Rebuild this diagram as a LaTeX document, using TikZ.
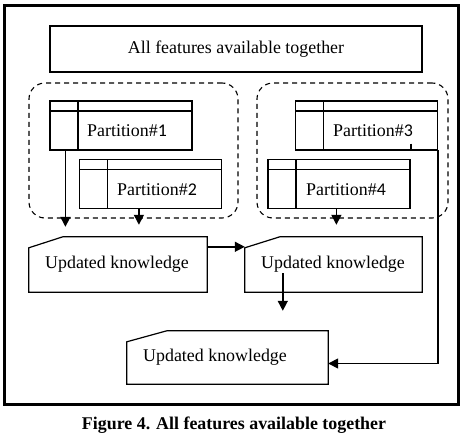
\documentclass[tikz,border=0pt]{standalone}
\usepackage{fontspec}
\setmainfont{Liberation Serif}
\newfontfamily\digitfont{Carlito}
\usetikzlibrary{arrows.meta}
\begin{document}
\begin{tikzpicture}[x=1pt,y=-1pt,
  every node/.style={font=\fontsize{17.9}{20}\selectfont},
  plainbox/.style={draw, line width=1.2pt, inner sep=0pt},
  partbox/.style={draw, line width=1.2pt, inner sep=0pt, minimum width=142pt, minimum height=49pt,
    path picture={
      \draw[line width=1.6pt] ([yshift=-10pt]path picture bounding box.north west) -- ([yshift=-10pt]path picture bounding box.north east);
      \draw[line width=1.2pt] ([xshift=28pt]path picture bounding box.north west) -- ([xshift=28pt]path picture bounding box.south west);
    }},
  grp/.style={draw, dashed, dash pattern=on 5pt off 4pt, line width=1.1pt, rounded corners=16pt, inner sep=0pt, minimum height=135pt},
  ukbox/.style={inner sep=0pt},
  ukline/.style={line width=1.2pt},
  txt/.style={anchor=west, inner sep=0pt},
  arr/.style={line width=1.5pt, -{Triangle[length=10pt,width=10pt]}},
]
\useasboundingbox (0,0) rectangle (461,446);
% frame
\node[draw, line width=3pt, minimum width=454pt, minimum height=399pt, inner sep=0pt] (frame) at (231,205.5) {};
% top box
\node[plainbox, minimum width=372pt, minimum height=46pt] (top) at (236,49) {All features available together};
% groups
\node[grp, minimum width=209pt] (g1) at (133.5,150.5) {};
\node[grp, minimum width=191pt] (g2) at (352.5,150.5) {};
% partitions
\node[partbox] (p1) at (121,125.5) {};
\node[partbox] (p2) at (150.5,184) {};
\node[partbox] (p3) at (366.5,125.5) {};
\node[partbox] (p4) at (339,184) {};
\node[txt] (t1) at (87,131) {Partition\#{\digitfont 1}};
\node[txt] (t2) at (117,190) {Partition\#{\digitfont 2}};
\node[txt] (t3) at (333,131) {Partition\#{\digitfont 3}};
\node[txt] (t4) at (306,190) {Partition\#{\digitfont 4}};
% updated knowledge boxes
\node[ukbox, minimum width=178pt, minimum height=55pt] (u1) at (118,264.5) {};
\node[ukbox, minimum width=177pt, minimum height=55pt] (u2) at (333.5,264.5) {};
\node[ukbox, minimum width=201pt, minimum height=53pt] (u3) at (227.5,357.5) {};
\draw[ukline] (u1.south west) -- ([yshift=-11pt]u1.north west) -- ([xshift=34pt]u1.north west) -- (u1.north east) -- (u1.south east) -- cycle;
\draw[ukline] (u2.south west) -- ([yshift=-11pt]u2.north west) -- ([xshift=35pt]u2.north west) -- (u2.north east) -- (u2.south east) -- cycle;
\draw[ukline] (u3.south west) -- ([yshift=-11pt]u3.north west) -- ([xshift=40pt]u3.north west) -- (u3.north east) -- (u3.south east) -- cycle;
\node[txt] (k1) at (45,264) {Updated knowledge};
\node[txt] (k2) at (261,264) {Updated knowledge};
\node[txt] (k3) at (143,357) {Updated knowledge};
\coordinate (u3in) at ([yshift=-6pt]u3.east);
\coordinate (p3start) at ([xshift=-27pt,yshift=7pt]p3.south east);
% arrows
\draw[arr, shorten >=10pt] ([xshift=16pt]p1.south west) -- ([xshift=16pt]p1.south west |- u1.north);
\draw[arr, shorten >=12pt] ([xshift=60pt]p2.south west) -- ([xshift=60pt]p2.south west |- u1.north);
\draw[arr, shorten >=12pt] ([xshift=69pt]p4.south west) -- ([xshift=69pt]p4.south west |- u2.north);
\draw[arr] ([yshift=-10pt]u1.north east) -- ([yshift=-10pt]u2.north west);
\draw[arr, shorten >=20pt] ([xshift=38pt,yshift=19pt]u2.south west) -- ([xshift=38pt]u2.south west |- u3.north);
\draw[arr] (p3start) -- (p3start |- p3.south) -- (p3.south east) -- (p3.south east |- u3in) -- (u3in);
% caption
\node[font=\fontsize{17.9}{20}\selectfont\bfseries] (cap) at (234,425) {Figure 4. All features available together};
\end{tikzpicture}
\end{document}
